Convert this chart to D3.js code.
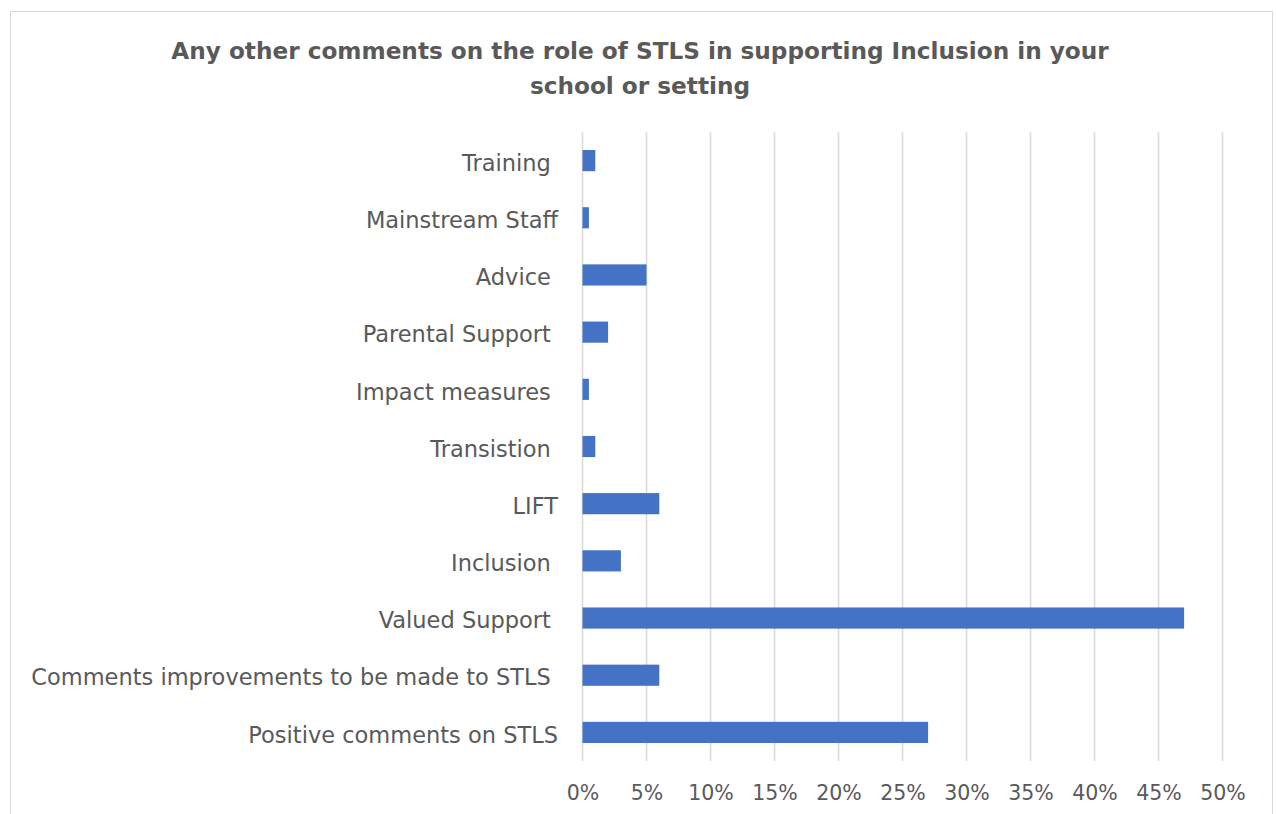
<!DOCTYPE html>
<html>
<head>
<meta charset="utf-8">
<script src="https://cdn.jsdelivr.net/npm/d3@7"></script>
<style>
  html, body { margin: 0; padding: 0; background: #fff; }
  svg { display: block; }
  text { font-family: "DejaVu Sans", sans-serif; fill: #595959; }
</style>
</head>
<body>
<svg id="chart" width="1276" height="814"></svg>
<script>
// Response categories, top to bottom
const categories = [
  "Training ",
  "Mainstream Staff",
  "Advice ",
  "Parental Support ",
  "Impact measures ",
  "Transistion ",
  "LIFT",
  "Inclusion ",
  "Valued Support ",
  "Comments improvements to be made to STLS ",
  "Positive comments on STLS"
];
// Share of responses (%)
const values = [1, 0.5, 5, 2, 0.5, 1, 6, 3, 47, 6, 27];
const tickValues = [0, 5, 10, 15, 20, 25, 30, 35, 40, 45, 50];
const titleLines = [
  "Any other comments on the role of STLS in supporting Inclusion in your",
  "school or setting"
];

const svg = d3.select("#chart");

// chart frame
svg.append("rect")
  .attr("x", 10.5).attr("y", 11.5)
  .attr("width", 1262).attr("height", 820)
  .attr("fill", "#fff")
  .attr("stroke", "#d9d9d9").attr("stroke-width", 1);

const plot = { left: 582.5, right: 1222.5, top: 132, bottom: 761 };

const x = d3.scaleLinear().domain([0, 50]).range([plot.left, plot.right]);
const y = d3.scaleBand().domain(categories)
  .range([plot.top, plot.bottom])
  .paddingInner(0.63).paddingOuter(0.315);

// vertical gridlines
svg.append("g")
  .selectAll("line")
  .data(tickValues)
  .join("line")
  .attr("x1", d => x(d)).attr("x2", d => x(d))
  .attr("y1", plot.top).attr("y2", plot.bottom)
  .attr("stroke", "#d9d9d9").attr("stroke-width", 1.6);

// bars
svg.append("g")
  .selectAll("rect")
  .data(values)
  .join("rect")
  .attr("x", x(0))
  .attr("y", (d, i) => y(categories[i]))
  .attr("width", d => x(d) - x(0))
  .attr("height", y.bandwidth())
  .attr("fill", "#4472C4");

// x axis tick labels
const xAxis = d3.axisBottom(x)
  .tickValues(tickValues)
  .tickFormat(d => d + "%")
  .tickSize(0)
  .tickPadding(0);
const gx = svg.append("g")
  .attr("transform", `translate(0,${plot.bottom + 24})`)
  .call(xAxis);
gx.select(".domain").remove();
gx.selectAll("text")
  .attr("dy", "0.71em")
  .style("font-size", "20.5px")
  .style("fill", "#595959")
  .style("font-family", "'DejaVu Sans', sans-serif");

// category labels
const yAxis = d3.axisLeft(y).tickSize(0).tickPadding(0);
const gy = svg.append("g")
  .attr("transform", `translate(${558},3)`)
  .call(yAxis);
gy.select(".domain").remove();
gy.selectAll("text")
  .style("white-space", "pre")
  .style("font-size", "22.5px")
  .style("fill", "#595959")
  .style("font-family", "'DejaVu Sans', sans-serif");

// title
svg.append("g")
  .selectAll("text")
  .data(titleLines)
  .join("text")
  .attr("x", 640)
  .attr("y", (d, i) => 59 + i * 35)
  .attr("text-anchor", "middle")
  .style("font-size", "23.2px")
  .style("font-weight", "bold")
  .text(d => d);
</script>
</body>
</html>
